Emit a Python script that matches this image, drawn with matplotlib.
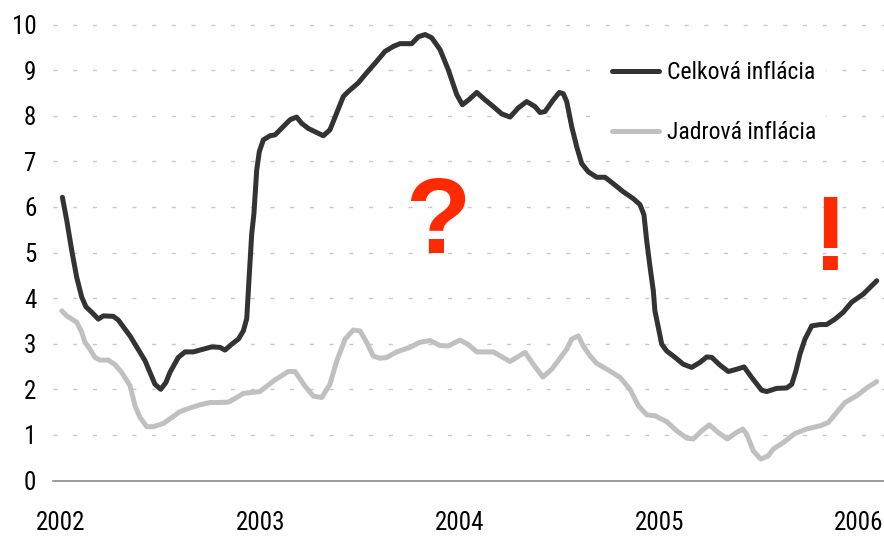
import matplotlib
matplotlib.use("Agg")
import matplotlib.pyplot as plt
from matplotlib import font_manager

# pick a narrow sans if one is installed, otherwise Arial-like Liberation Sans
available = {f.name for f in font_manager.fontManager.ttflist}
narrow = None
for name in ["Liberation Sans Narrow", "Arial Narrow", "Roboto Condensed", "Open Sans Condensed"]:
    if name in available:
        narrow = name
        break
if narrow:
    base_family = [narrow, "DejaVu Sans"]
    label_size = 18
    legend_size = 17
else:
    base_family = ["Liberation Sans", "DejaVu Sans"]
    label_size = 15
    legend_size = 14
plt.rcParams["font.family"] = base_family

# Celková inflácia (decimal year, %)
celkova_t = [2002.007, 2002.029, 2002.054, 2002.079, 2002.104, 2002.125, 2002.154, 2002.187,
             2002.212, 2002.262, 2002.287, 2002.346, 2002.421, 2002.471, 2002.500, 2002.526,
             2002.546, 2002.588, 2002.622, 2002.663, 2002.713, 2002.755, 2002.797, 2002.822,
             2002.856, 2002.889, 2002.914, 2002.931, 2002.944, 2002.956, 2002.967, 2002.981,
             2002.994, 2003.014, 2003.048, 2003.073, 2003.114, 2003.148, 2003.181, 2003.207,
             2003.240, 2003.282, 2003.315, 2003.348, 2003.382, 2003.415, 2003.440, 2003.490,
             2003.532, 2003.582, 2003.624, 2003.666, 2003.699, 2003.758, 2003.791, 2003.825,
             2003.858, 2003.900, 2003.941, 2003.984, 2004.012, 2004.047, 2004.084, 2004.125,
             2004.167, 2004.209, 2004.251, 2004.292, 2004.334, 2004.376, 2004.401, 2004.426,
             2004.468, 2004.498, 2004.518, 2004.535, 2004.560, 2004.585, 2004.610, 2004.643,
             2004.685, 2004.727, 2004.768, 2004.819, 2004.869, 2004.902, 2004.922, 2004.936,
             2004.952, 2004.969, 2004.977, 2004.994, 2005.011, 2005.036, 2005.078, 2005.119,
             2005.161, 2005.203, 2005.237, 2005.262, 2005.303, 2005.345, 2005.387, 2005.424,
             2005.462, 2005.512, 2005.537, 2005.587, 2005.638, 2005.663, 2005.684, 2005.704,
             2005.729, 2005.763, 2005.805, 2005.838, 2005.880, 2005.921, 2005.963, 2006.022,
             2006.089]
celkova = [6.21, 5.70, 5.04, 4.45, 4.02, 3.81, 3.69, 3.54,
           3.61, 3.60, 3.52, 3.17, 2.63, 2.11, 2.00, 2.15,
           2.37, 2.70, 2.82, 2.82, 2.88, 2.93, 2.92, 2.86,
           2.99, 3.10, 3.28, 3.55, 4.53, 5.41, 5.85, 6.81,
           7.21, 7.47, 7.56, 7.58, 7.76, 7.91, 7.97, 7.83,
           7.72, 7.63, 7.56, 7.69, 8.06, 8.42, 8.53, 8.72,
           8.94, 9.19, 9.41, 9.52, 9.58, 9.58, 9.73, 9.78,
           9.71, 9.45, 9.01, 8.46, 8.24, 8.36, 8.51, 8.35,
           8.20, 8.04, 7.97, 8.17, 8.31, 8.20, 8.07, 8.09,
           8.35, 8.51, 8.48, 8.31, 7.76, 7.32, 6.95, 6.77,
           6.65, 6.65, 6.51, 6.33, 6.18, 6.05, 5.83, 5.25,
           4.70, 4.16, 3.72, 3.36, 2.99, 2.84, 2.70, 2.55,
           2.48, 2.59, 2.71, 2.70, 2.53, 2.39, 2.44, 2.49,
           2.26, 1.98, 1.95, 2.02, 2.03, 2.11, 2.41, 2.77,
           3.10, 3.39, 3.42, 3.42, 3.54, 3.69, 3.91, 4.09,
           4.38]

# Jadrová inflácia (decimal year, %)
jadrova_t = [2002.004, 2002.029, 2002.054, 2002.079, 2002.104, 2002.120, 2002.145, 2002.170,
             2002.195, 2002.237, 2002.271, 2002.304, 2002.346, 2002.371, 2002.396, 2002.430,
             2002.463, 2002.513, 2002.555, 2002.596, 2002.647, 2002.697, 2002.747, 2002.797,
             2002.839, 2002.881, 2002.914, 2002.997, 2003.064, 2003.139, 2003.173, 2003.223,
             2003.265, 2003.307, 2003.348, 2003.382, 2003.424, 2003.465, 2003.499, 2003.532,
             2003.565, 2003.599, 2003.633, 2003.683, 2003.749, 2003.799, 2003.850, 2003.900,
             2003.941, 2004.000, 2004.042, 2004.084, 2004.167, 2004.251, 2004.326, 2004.367,
             2004.415, 2004.460, 2004.535, 2004.560, 2004.593, 2004.618, 2004.652, 2004.685,
             2004.752, 2004.802, 2004.852, 2004.894, 2004.936, 2004.977, 2005.036, 2005.086,
             2005.136, 2005.169, 2005.212, 2005.250, 2005.295, 2005.340, 2005.378, 2005.417,
             2005.437, 2005.470, 2005.507, 2005.545, 2005.570, 2005.620, 2005.679, 2005.738,
             2005.805, 2005.846, 2005.880, 2005.930, 2005.989, 2006.039, 2006.089]
jadrova = [3.72, 3.61, 3.54, 3.47, 3.25, 3.03, 2.88, 2.70,
           2.64, 2.64, 2.54, 2.37, 2.08, 1.64, 1.38, 1.18,
           1.18, 1.25, 1.38, 1.51, 1.59, 1.66, 1.71, 1.71,
           1.72, 1.82, 1.91, 1.95, 2.18, 2.39, 2.39, 2.07,
           1.85, 1.82, 2.11, 2.62, 3.10, 3.30, 3.28, 3.03,
           2.73, 2.68, 2.70, 2.82, 2.92, 3.03, 3.07, 2.96,
           2.95, 3.08, 2.98, 2.82, 2.82, 2.61, 2.81, 2.55,
           2.27, 2.44, 2.88, 3.10, 3.17, 2.95, 2.73, 2.57,
           2.40, 2.26, 2.00, 1.64, 1.44, 1.42, 1.29, 1.09,
           0.93, 0.91, 1.09, 1.22, 1.05, 0.91, 1.03, 1.13,
           1.02, 0.65, 0.47, 0.54, 0.69, 0.83, 1.03, 1.13,
           1.20, 1.27, 1.45, 1.71, 1.86, 2.03, 2.17]

years = [2002, 2003, 2004, 2005, 2006]
y_ticks = list(range(0, 11))

fig = plt.figure(figsize=(8.84, 5.36), dpi=100)
ax = fig.add_axes([53 / 884, 55.5 / 536, 831 / 884, 456 / 536])

ax.plot(celkova_t, celkova, color="#333333", linewidth=3.6,
        solid_joinstyle="round", solid_capstyle="round", label="Celková inflácia", zorder=3)
ax.plot(jadrova_t, jadrova, color="#c0c0c0", linewidth=3.6,
        solid_joinstyle="round", solid_capstyle="round", label="Jadrová inflácia", zorder=2)

ax.set_xlim(2002 - 8 / 199.5, 2002 + 823 / 199.5)
ax.set_ylim(0, 10)
ax.set_xticks(years)
ax.set_xticklabels([str(y) for y in years])
ax.set_yticks(y_ticks)

for side in ["top", "right", "left"]:
    ax.spines[side].set_visible(False)
ax.spines["bottom"].set_color("#808080")
ax.spines["bottom"].set_linewidth(1.1)

ax.tick_params(axis="both", length=0, labelsize=label_size, colors="black")
ax.tick_params(axis="y", pad=12)
ax.tick_params(axis="x", pad=22)

# dashed horizontal gridlines (except at zero)
for v in y_ticks[1:]:
    ax.axhline(v, color="#c8c8c8", linewidth=1.0, dashes=(2.9, 11.3), clip_on=False, zorder=1)

fs_px = legend_size * 100 / 72
leg = ax.legend(loc="upper left", bbox_to_anchor=(602.5 / 884, 1 - 51.5 / 536),
                bbox_transform=fig.transFigure, borderaxespad=0, frameon=True,
                fontsize=legend_size, handlelength=47 / fs_px, handletextpad=8 / fs_px,
                labelspacing=1.58, borderpad=0.4)
leg.get_frame().set_facecolor("white")
leg.get_frame().set_edgecolor("none")
leg.get_frame().set_alpha(1)
leg.set_zorder(4)

ax.text(2003.887, 4.99, "?", color="#ff2a00", fontsize=77, fontweight="bold",
        family=["Liberation Sans", "DejaVu Sans"], ha="center", va="baseline", zorder=5)
ax.text(2005.86, 4.62, "!", color="#ff2a00", fontsize=76, fontweight="bold",
        family=["Liberation Sans", "DejaVu Sans"], ha="center", va="baseline", zorder=5)

fig.savefig("out.png", dpi=100)
